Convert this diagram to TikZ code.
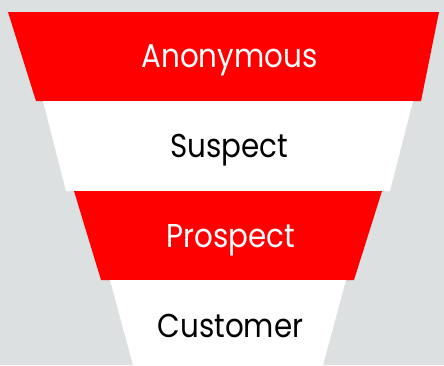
\documentclass[tikz,border=0pt]{standalone}
\usepackage{fontspec}
\setmainfont{Poppins}
\definecolor{funnelred}{RGB}{255,0,0}
\definecolor{backgray}{RGB}{221,224,225}
\newcommand{\narrow}[1]{\scalebox{0.89}[1]{#1}}
\begin{document}
\begin{tikzpicture}[x=1pt,y=-1pt,
  label/.style={font=\fontsize{33}{36}\selectfont, anchor=base, inner sep=0pt}]
  % page background
  \fill[backgray] (0,0) rectangle (444,365);
  \useasboundingbox (0,0) rectangle (444,365);
  % funnel bands, top to bottom
  \fill[funnelred] (8,12) -- (439,12) -- (421,101) -- (36,101) -- cycle;
  \fill[white] (43,101) -- (413,101) -- (390,191) -- (66,191) -- cycle;
  \fill[funnelred] (74,191) -- (382,191) -- (354,280) -- (101,280) -- cycle;
  \fill[white] (110,280) -- (346,280) -- (323,365) -- (133,365) -- cycle;
  % band captions
  \node[label, text=white] (anon) at (229.5,67) {\narrow{Anonymous}};
  \node[label, text=black] (susp) at (229,157) {\narrow{Suspect}};
  \node[label, text=white] (prosp) at (231,247) {\narrow{Prospect}};
  \node[label, text=black] (cust) at (230.5,337) {\narrow{Customer}};
\end{tikzpicture}
\end{document}
